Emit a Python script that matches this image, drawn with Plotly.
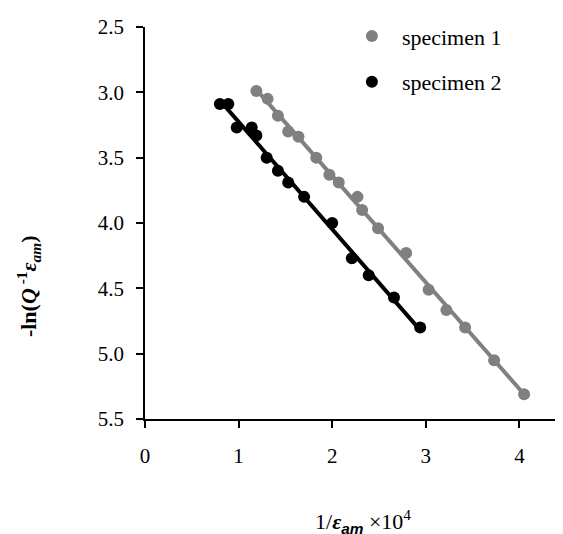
import numpy as np
import plotly.graph_objects as go

# specimen 1 (gray)
s1_x = [1.19, 1.31, 1.42, 1.53, 1.64, 1.83, 1.97, 2.07, 2.27, 2.32, 2.49, 2.79, 3.03, 3.22, 3.42, 3.73, 4.05]
s1_y = [2.99, 3.05, 3.18, 3.30, 3.34, 3.50, 3.63, 3.69, 3.80, 3.90, 4.04, 4.23, 4.51, 4.665, 4.80, 5.05, 5.31]
# specimen 2 (black)
s2_x = [0.80, 0.89, 0.98, 1.14, 1.19, 1.30, 1.42, 1.53, 1.70, 2.00, 2.21, 2.39, 2.66, 2.94]
s2_y = [3.09, 3.09, 3.27, 3.27, 3.33, 3.50, 3.60, 3.69, 3.80, 4.00, 4.27, 4.40, 4.57, 4.80]

names = ["specimen 1", "specimen 2"]
colors = ["#808080", "#000000"]
y_ticks = [2.5, 3.0, 3.5, 4.0, 4.5, 5.0, 5.5]
x_ticks = [0, 1, 2, 3, 4]

fig = go.Figure()
for xs, ys, nm, col in [(s1_x, s1_y, names[0], colors[0]), (s2_x, s2_y, names[1], colors[1])]:
    k, b = np.polyfit(xs, ys, 1)
    lx = [min(xs), max(xs)]
    fig.add_trace(go.Scatter(x=lx, y=[k * v + b for v in lx], mode="lines",
                             line=dict(color=col, width=4), showlegend=False, hoverinfo="skip"))
    fig.add_trace(go.Scatter(x=xs, y=ys, mode="markers", name=nm,
                             marker=dict(color=col, size=12), legendgroup=nm))

serif = "Liberation Serif, Times New Roman, serif"
# the page body has an 8px default margin, so the figure is sized/margined to compensate
fig.update_layout(
    width=555, height=526,
    margin=dict(l=137, r=0, t=19, b=115.4),
    paper_bgcolor="white", plot_bgcolor="white",
    font=dict(family=serif, size=21, color="black"),
    showlegend=True,
    legend=dict(x=0.471, y=1.03, xanchor="left", yanchor="top", bgcolor="rgba(0,0,0,0)",
                itemwidth=50, tracegroupgap=14, font=dict(size=22, family=serif)),
    xaxis=dict(range=[0, 418 / 93.6], tickvals=x_ticks, ticktext=[str(v) for v in x_ticks],
               showgrid=False, zeroline=False, showline=True, linecolor="black", linewidth=1.5,
               ticks="outside", ticklen=7, tickwidth=1.5, tickcolor="black", ticklabelstandoff=10),
    yaxis=dict(range=[5.5, 2.5], tickvals=y_ticks, ticktext=[f"{v:.1f}" for v in y_ticks],
               showgrid=False, zeroline=False, showline=True, linecolor="black", linewidth=1.5,
               ticks="outside", ticklen=7, tickwidth=1.5, tickcolor="black", ticklabelstandoff=8),
    annotations=[
        dict(xref="paper", yref="paper", x=-0.279, y=0.34, xanchor="center", yanchor="middle",
             textangle=-90, showarrow=False, font=dict(size=22, family=serif),
             text="<b>-ln(<i>Q</i><sup> -1</sup><i>ε<sub>am</sub></i>)</b>"),
        dict(xref="paper", yref="paper", x=0.522, y=-0.262, xanchor="center", yanchor="middle",
             showarrow=False, font=dict(size=22, family=serif),
             text="1/<b><i>ε</i></b><sub><span style='font-family:Liberation Sans, Arial, sans-serif'><b><i>am</i></b></span></sub> ×10<sup>4</sup>"),
    ],
)
fig.write_html("out.html")
